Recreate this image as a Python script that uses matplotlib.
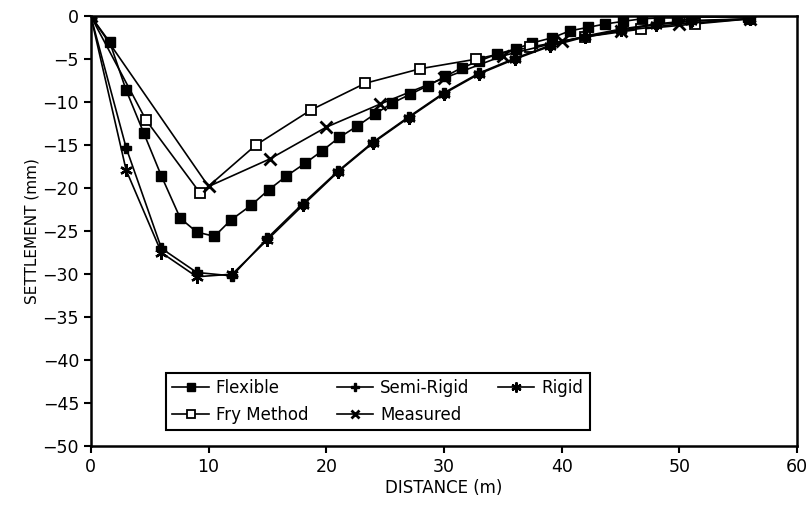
import matplotlib
matplotlib.use("Agg")
import matplotlib.pyplot as plt

# settlement profiles (distance in m, settlement in mm)
flex_x = [0, 1.6, 3.0, 4.5, 6.0, 7.6, 9.0, 10.5, 11.9, 13.6, 15.1, 16.6, 18.2,
          19.6, 21.1, 22.6, 24.1, 25.6, 27.1, 28.6, 30.1, 31.5, 33.0, 34.5,
          36.1, 37.5, 39.2, 40.7, 42.2, 43.7, 45.2, 46.8, 48.3, 49.8, 51.2, 55.8]
flex_y = [0, -3.0, -8.6, -13.6, -18.6, -23.5, -25.1, -25.6, -23.7, -22.0, -20.2,
          -18.6, -17.1, -15.7, -14.1, -12.8, -11.4, -10.1, -9.1, -8.1, -7.0,
          -6.0, -5.2, -4.4, -3.8, -3.1, -2.5, -1.7, -1.3, -0.9, -0.6, -0.3,
          -0.2, -0.2, -0.1, -0.1]

rig_x = [0, 3, 6, 9, 12, 15, 18, 21, 24, 27, 30, 33, 36, 39, 42, 45, 48, 51, 56]
semi_y = [0, -15.3, -27.0, -29.8, -30.2, -25.8, -21.8, -18.0, -14.6, -11.7,
          -8.9, -6.6, -4.9, -3.4, -2.3, -1.5, -0.9, -0.5, -0.3]
rigid_y = [0, -17.9, -27.5, -30.3, -30.0, -26.0, -22.0, -18.1, -14.7, -11.8,
           -9.0, -6.7, -5.0, -3.5, -2.4, -1.6, -1.0, -0.6, -0.3]

fry_x = [0, 4.7, 9.3, 14.0, 18.7, 23.3, 28.0, 32.7, 37.3, 42.0, 46.7, 51.3, 56.0]
fry_y = [0, -12.1, -20.6, -15.0, -10.9, -7.8, -6.1, -5.0, -3.6, -2.4, -1.5,
         -0.9, -0.3]

meas_x = [0, 10, 15.2, 20, 24.6, 30, 35, 40, 45, 50, 56]
meas_y = [0, -19.8, -16.6, -12.9, -10.2, -7.2, -4.6, -2.9, -1.7, -0.9, -0.3]

plt.rcParams['font.family'] = ['DejaVu Sans']

fig = plt.figure(figsize=(8.11, 5.07), dpi=100)
ax = fig.add_axes([0.112, 0.120, 0.871, 0.848])

lw = 1.2
ax.plot(flex_x, flex_y, color='black', lw=lw, marker='s', ms=7,
        mfc='black', mec='black', label='Flexible')
ax.plot(fry_x, fry_y, color='black', lw=lw, marker='s', ms=7,
        mfc='white', mec='black', mew=1.3, label='Fry Method')
ax.plot(rig_x, semi_y, color='black', lw=lw, marker='P', ms=7,
        mfc='black', mec='black', label='Semi-Rigid')
ax.plot(meas_x, meas_y, color='black', lw=lw, marker='x', ms=8,
        mew=2, label='Measured')
ax.plot(rig_x, rigid_y, color='black', lw=lw, marker=(6, 2, 0), ms=9,
        mew=1.7, label='Rigid')

ax.set_xlim(0, 60)
ax.set_ylim(-50, 0)
ax.set_xticks(range(0, 61, 10))
ax.set_yticks(range(-50, 1, 5))
ax.set_yticklabels([str(v).replace('-', '\u2212') for v in range(-50, 1, 5)])
ax.tick_params(direction='out', length=5, width=1.5, labelsize=12.5,
               top=False, right=False)
for s in ax.spines.values():
    s.set_linewidth(1.8)

ax.set_xlabel('DISTANCE (m)', fontsize=12, labelpad=2)
ax.set_ylabel('SETTLEMENT (mm)', fontsize=11, labelpad=2)

leg = ax.legend(ncol=3, loc='lower left',
                bbox_to_anchor=(0.106, 0.037, 0.60, 0.174), mode='expand',
                borderaxespad=0, fancybox=False, framealpha=1,
                edgecolor='black', fontsize=12, handlelength=2.2,
                handletextpad=0.4, columnspacing=0.8, labelspacing=0.5,
                markerscale=0.8)
leg.get_frame().set_linewidth(1.5)

fig.savefig('out.png', dpi=100)
